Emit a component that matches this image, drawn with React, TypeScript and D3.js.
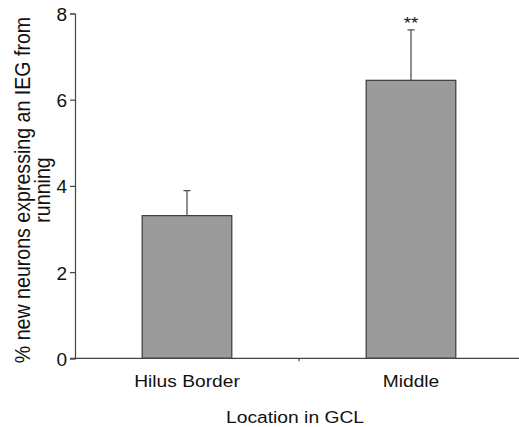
import React, { useEffect, useRef } from "react";
import * as d3 from "d3";

// data
const categories = ["Hilus Border", "Middle"];
const means = [3.31, 6.45];
const errors = [0.58, 1.17];
const marks = ["", "**"];
const yTicks = [0, 2, 4, 6, 8];

const width = 519;
const height = 427;
const font = "'Liberation Sans', Arial, Helvetica, sans-serif";

export default function App() {
  const ref = useRef<SVGSVGElement>(null);

  useEffect(() => {
    const svg = d3.select(ref.current);
    svg.selectAll("*").remove();

    const x = d3.scaleBand().domain(categories).range([75, 523]);
    const y = d3.scaleLinear().domain([0, 8]).range([358.3, 13.5]);
    const barW = x.bandwidth() * 0.4;

    const data = categories.map((c, i) => ({ c, v: means[i], e: errors[i], m: marks[i] }));

    // bars
    svg.selectAll(".bar")
      .data(data)
      .enter().append("rect")
      .attr("class", "bar")
      .attr("x", d => x(d.c)! + x.bandwidth() / 2 - barW / 2)
      .attr("y", d => y(d.v))
      .attr("width", barW)
      .attr("height", d => y(0) - y(d.v))
      .attr("fill", "#9b9b9b")
      .attr("stroke", "#3a3a3a")
      .attr("stroke-width", 1.2);

    // error bars (upper only)
    const eb = svg.selectAll(".err")
      .data(data)
      .enter().append("g")
      .attr("class", "err")
      .attr("stroke", "#444")
      .attr("stroke-width", 1.2);
    eb.append("line")
      .attr("x1", d => x(d.c)! + x.bandwidth() / 2)
      .attr("x2", d => x(d.c)! + x.bandwidth() / 2)
      .attr("y1", d => y(d.v))
      .attr("y2", d => y(d.v + d.e));
    eb.append("line")
      .attr("x1", d => x(d.c)! + x.bandwidth() / 2 - 3.5)
      .attr("x2", d => x(d.c)! + x.bandwidth() / 2 + 3.5)
      .attr("y1", d => y(d.v + d.e))
      .attr("y2", d => y(d.v + d.e));

    svg.selectAll(".mark")
      .data(data)
      .enter().append("text")
      .attr("class", "mark")
      .attr("transform", d => "translate(" + (x(d.c)! + x.bandwidth() / 2) + "," + (y(d.v + d.e) - 1) + ") scale(1.1,1)")
      .attr("text-anchor", "middle")
      .style("font-family", font)
      .style("font-size", "17px")
      .attr("fill", "#111")
      .text(d => d.m);

    // y axis
    const ya = svg.append("g")
      .attr("transform", "translate(75,0)")
      .call(d3.axisLeft(y).tickValues(yTicks).tickSize(5).tickPadding(8).tickFormat(d3.format("d")));
    ya.select(".domain").attr("stroke", "#444").attr("stroke-width", 1.2);
    ya.selectAll(".tick line").attr("stroke", "#444").attr("stroke-width", 1.2);
    ya.selectAll(".tick text")
      .attr("x", null)
      .attr("dy", null)
      .attr("transform", "translate(-8,7) scale(1.03,1)")
      .style("font-family", font)
      .style("font-size", "18.5px")
      .attr("fill", "#111");

    // x axis
    const xa = svg.append("g")
      .attr("transform", "translate(0," + y(0) + ")");
    xa.append("line")
      .attr("x1", 70).attr("x2", width)
      .attr("stroke", "#444").attr("stroke-width", 1.2);
    xa.selectAll(".sep")
      .data(categories.slice(1))
      .enter().append("line")
      .attr("class", "sep")
      .attr("x1", d => x(d)!).attr("x2", d => x(d)!)
      .attr("y1", 0).attr("y2", 3)
      .attr("stroke", "#444").attr("stroke-width", 1.2);
    xa.selectAll(".xl")
      .data(categories)
      .enter().append("text")
      .attr("class", "xl")
      .attr("transform", d => "translate(" + (x(d)! + x.bandwidth() / 2) + ",28.5) scale(1.13,1)")
      .attr("text-anchor", "middle")
      .style("font-family", font)
      .style("font-size", "17px")
      .attr("fill", "#111")
      .text(d => d);

    // axis titles
    svg.append("text")
      .attr("transform", "translate(295,423) scale(1.12,1)")
      .attr("text-anchor", "middle")
      .style("font-family", font)
      .style("font-size", "17.2px")
      .attr("fill", "#111")
      .text("Location in GCL");

    const yt = svg.append("text")
      .attr("transform", "translate(29.5,190) rotate(-90) scale(1,1.1)")
      .attr("text-anchor", "middle")
      .style("font-family", font)
      .style("font-size", "19.6px")
      .attr("fill", "#111");
    yt.append("tspan").attr("x", 0).text("% new neurons expressing an IEG from");
    yt.append("tspan").attr("x", 0).attr("dy", 18.2).text("running");
  }, []);

  return (
    <div style={{ position: "absolute", left: 0, top: 0 }}>
      <svg ref={ref} width={width} height={height} style={{ display: "block", background: "#fff" }} />
    </div>
  );
}
